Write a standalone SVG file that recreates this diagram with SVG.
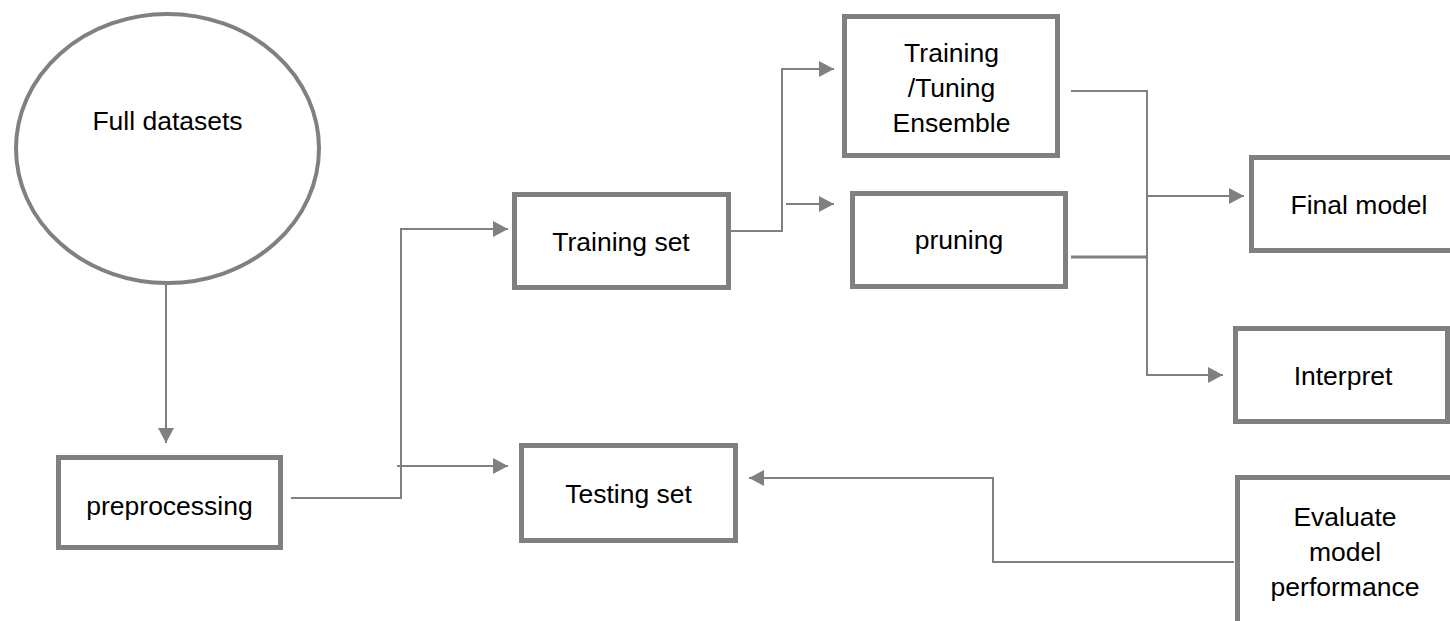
<svg xmlns="http://www.w3.org/2000/svg" width="1450" height="621" viewBox="0 0 1450 621">
<defs>
<style>
.box{fill:#fff;stroke:#808080;stroke-width:5}
.lbl{font-family:"Liberation Sans",Arial,sans-serif;font-size:26.5px;fill:#000;text-anchor:middle}
.conn{fill:none;stroke:#808080;stroke-width:2}
</style>
<marker id="arr" markerUnits="userSpaceOnUse" markerWidth="16" markerHeight="16" refX="15" refY="8" orient="auto">
<path d="M0,0 L15,8 L0,16 z" fill="#808080"/>
</marker>
</defs>
<rect width="1450" height="621" fill="#fff"/>
<g id="connectors">
<path class="conn" d="M166 285 V443" marker-end="url(#arr)"/>
<path class="conn" d="M291 498 H401 V229 H508" marker-end="url(#arr)"/>
<path class="conn" d="M397 466 H508" marker-end="url(#arr)"/>
<path class="conn" d="M731 231 H782 V69 H834" marker-end="url(#arr)"/>
<path class="conn" d="M786 204 H834" marker-end="url(#arr)"/>
<path class="conn" d="M1071 91 H1147 V375 H1223" marker-end="url(#arr)"/>
<path class="conn" d="M1071 257 H1147" style="stroke-width:3"/>
<path class="conn" d="M1147 196 H1244" marker-end="url(#arr)"/>
<path class="conn" d="M1234 562 H993 V478 H749" marker-end="url(#arr)"/>
</g>
<g id="full-datasets">
<ellipse cx="167.5" cy="148.5" rx="151.5" ry="134.5" fill="#fff" stroke="#808080" stroke-width="4"/>
<text class="lbl" x="167.5" y="130">Full datasets</text>
</g>
<g id="preprocessing">
<rect class="box" x="58.5" y="457.5" width="222" height="90"/>
<text class="lbl" x="169.5" y="515">preprocessing</text>
</g>
<g id="training-set">
<rect class="box" x="514.5" y="194.5" width="214" height="93"/>
<text class="lbl" x="621" y="251">Training set</text>
</g>
<g id="testing-set">
<rect class="box" x="521.5" y="445.5" width="214" height="95"/>
<text class="lbl" x="628.5" y="503">Testing set</text>
</g>
<g id="training-tuning">
<rect class="box" x="844.5" y="16.5" width="213" height="139"/>
<text class="lbl" x="951.5" y="62">Training</text>
<text class="lbl" x="951.5" y="97">/Tuning</text>
<text class="lbl" x="951.5" y="132">Ensemble</text>
</g>
<g id="pruning">
<rect class="box" x="852.5" y="193.5" width="213" height="93"/>
<text class="lbl" x="959" y="249">pruning</text>
</g>
<g id="final-model">
<rect class="box" x="1251.5" y="157.5" width="220" height="93"/>
<text class="lbl" x="1359" y="214">Final model</text>
</g>
<g id="interpret">
<rect class="box" x="1235.5" y="328.5" width="212" height="93"/>
<text class="lbl" x="1343" y="385">Interpret</text>
</g>
<g id="evaluate">
<rect class="box" x="1237.5" y="477.5" width="230" height="200"/>
<text class="lbl" x="1345" y="526">Evaluate</text>
<text class="lbl" x="1345" y="561">model</text>
<text class="lbl" x="1345" y="596">performance</text>
</g>
</svg>
